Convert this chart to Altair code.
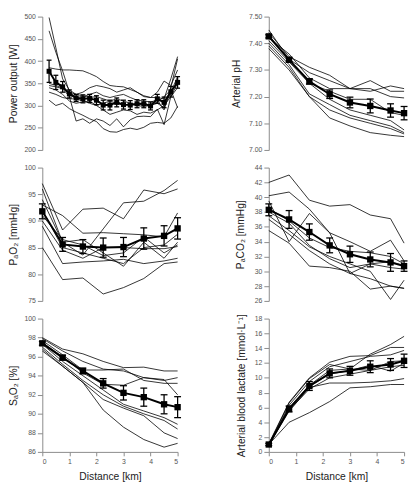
import altair as alt
import pandas as pd

# ---------------- data ----------------
D8 = [0, 0.75, 1.5, 2.25, 3, 3.75, 4.5, 5]
D20 = [0.25, 0.5, 0.75, 1.0, 1.25, 1.5, 1.75, 2.0, 2.25, 2.5,
       2.75, 3.0, 3.25, 3.5, 3.75, 4.0, 4.25, 4.5, 4.75, 5.0]

power_subjects = [
    [498, 430, 360, 335, 325, 322, 318, 320, 315, 310, 305, 300, 305, 300, 298, 300, 305, 295, 330, 365],
    [468, 420, 378, 330, 318, 320, 325, 330, 322, 318, 322, 325, 318, 312, 310, 308, 312, 290, 340, 405],
    [385, 382, 380, 380, 379, 378, 372, 365, 354, 345, 343, 342, 336, 330, 322, 318, 318, 315, 360, 410],
    [345, 342, 338, 320, 265, 270, 260, 270, 265, 255, 270, 252, 268, 275, 276, 275, 292, 257, 320, 350],
    [312, 300, 305, 293, 285, 278, 270, 264, 248, 241, 240, 246, 249, 246, 251, 260, 262, 260, 272, 298],
    [340, 335, 325, 310, 305, 308, 310, 300, 290, 280, 285, 290, 288, 280, 285, 283, 290, 300, 320, 340],
    [350, 345, 340, 330, 325, 330, 340, 345, 342, 338, 330, 335, 340, 330, 320, 318, 330, 355, 345, 380],
    [330, 325, 318, 315, 315, 310, 305, 300, 305, 310, 315, 310, 305, 300, 305, 300, 308, 320, 335, 295],
]
power_mean = [377, 352, 342, 326, 317, 315, 316, 312, 301, 301, 307, 302, 301, 304, 304, 299, 315, 307, 331, 352]
power_err = [25, 16, 12, 9, 8, 9, 9, 10, 11, 11, 10, 10, 10, 9, 9, 9, 10, 12, 12, 13]

ph_subjects = [
    [7.44, 7.35, 7.31, 7.28, 7.23, 7.22, 7.24, 7.23],
    [7.43, 7.34, 7.29, 7.26, 7.23, 7.26, 7.22, 7.22],
    [7.42, 7.36, 7.27, 7.23, 7.23, 7.23, 7.20, 7.195],
    [7.45, 7.34, 7.25, 7.22, 7.19, 7.19, 7.14, 7.13],
    [7.41, 7.33, 7.25, 7.19, 7.15, 7.13, 7.11, 7.075],
    [7.40, 7.32, 7.21, 7.17, 7.13, 7.11, 7.09, 7.065],
    [7.39, 7.31, 7.20, 7.15, 7.12, 7.10, 7.08, 7.06],
    [7.38, 7.30, 7.20, 7.12, 7.09, 7.065, 7.055, 7.05],
]
ph_mean = [7.426, 7.338, 7.257, 7.209, 7.178, 7.165, 7.148, 7.138]
ph_err = [0.006, 0.009, 0.010, 0.016, 0.020, 0.026, 0.025, 0.025]

pao2_subjects = [
    [97.0, 88.3, 92.2, 92.4, 90.4, 95.8, 95.1, 96.0],
    [96.0, 86.0, 83.6, 88.5, 93.4, 93.7, 95.7, 97.6],
    [93.0, 91.0, 87.7, 87.8, 87.6, 87.4, 87.0, 91.5],
    [94.0, 86.0, 86.5, 84.0, 81.5, 86.0, 83.0, 86.0],
    [92.0, 85.0, 84.0, 83.0, 82.0, 85.0, 85.5, 87.5],
    [90.0, 84.5, 83.0, 85.0, 85.0, 84.8, 84.8, 85.2],
    [89.0, 82.0, 82.3, 82.5, 82.8, 82.0, 82.5, 83.0],
    [85.0, 79.0, 79.3, 76.3, 77.5, 79.2, 82.0, 82.3],
    [91.0, 86.5, 85.5, 83.5, 84.0, 87.0, 84.0, 85.5],
]
pao2_mean = [91.8, 85.6, 85.2, 85.0, 85.1, 86.7, 87.2, 88.6]
pao2_err = [1.4, 1.3, 1.3, 1.8, 1.8, 2.0, 1.9, 2.0]

paco2_subjects = [
    [42.0, 43.0, 39.6, 38.8, 39.0, 37.6, 37.1, 33.8],
    [40.2, 40.7, 38.4, 35.2, 34.0, 32.7, 34.2, 31.4],
    [39.5, 34.0, 37.8, 35.2, 29.7, 31.0, 31.3, 30.8],
    [38.0, 36.5, 33.5, 31.7, 30.5, 31.0, 30.5, 30.3],
    [37.5, 35.5, 33.3, 32.0, 31.0, 30.0, 26.2, 28.8],
    [37.0, 35.0, 32.8, 31.0, 29.7, 29.0, 28.0, 27.7],
    [35.5, 33.8, 30.7, 30.5, 30.0, 27.6, 28.0, 27.7],
    [38.5, 36.8, 34.5, 33.2, 32.7, 32.5, 32.0, 31.0],
]
paco2_mean = [38.3, 37.0, 35.3, 33.5, 32.3, 31.6, 31.2, 30.7]
paco2_err = [0.8, 1.2, 1.1, 1.0, 1.1, 1.0, 1.2, 0.7]

sao2_subjects = [
    [98.0, 96.8, 96.3, 95.5, 94.85, 94.9, 94.5, 94.5],
    [97.9, 96.6, 95.5, 94.7, 94.5, 93.8, 93.5, 93.8],
    [97.7, 96.2, 94.6, 94.6, 94.7, 93.5, 93.2, 93.2],
    [97.5, 96.0, 94.3, 93.1, 93.0, 93.8, 93.6, 92.0],
    [97.3, 95.5, 94.0, 92.5, 91.0, 90.3, 89.6, 88.9],
    [97.0, 95.2, 93.5, 92.0, 90.8, 90.0, 89.3, 88.4],
    [96.8, 95.0, 93.3, 91.5, 90.6, 89.8, 88.0, 87.4],
    [96.6, 95.0, 93.3, 90.4, 88.6, 87.3, 86.5, 86.9],
]
sao2_mean = [97.4, 95.9, 94.5, 93.2, 92.2, 91.75, 91.0, 90.7]
sao2_err = [0.2, 0.25, 0.3, 0.5, 0.75, 0.95, 1.0, 1.1]

lac_subjects = [
    [1.0, 6.6, 9.9, 11.8, 11.2, 13.2, 14.5, 15.6],
    [1.1, 6.7, 10.0, 12.1, 12.9, 13.0, 14.1, 14.1],
    [0.9, 6.3, 9.5, 11.5, 12.2, 12.9, 13.1, 13.7],
    [1.0, 6.0, 9.0, 11.0, 11.2, 11.0, 12.2, 12.3],
    [0.8, 5.8, 8.8, 10.5, 11.0, 11.7, 10.9, 12.0],
    [1.1, 5.6, 8.5, 10.0, 10.5, 11.0, 11.5, 11.7],
    [0.9, 5.5, 8.7, 9.3, 9.3, 9.4, 9.6, 9.9],
    [1.0, 4.0, 5.3, 6.8, 8.65, 8.8, 9.1, 9.1],
]
lac_mean = [1.0, 5.8, 8.9, 10.6, 10.95, 11.5, 11.8, 12.3]
lac_err = [0.15, 0.4, 0.6, 0.6, 0.6, 0.8, 0.8, 0.9]

FONT = "Liberation Sans"
W, H = 138, 136


def panel(dist, subjects, mean, err, dom, ticks, fmt, title, tx, bottom, sq, cap):
    rows = []
    for sid, vals in enumerate(subjects):
        for d, v in zip(dist, vals):
            rows.append({"d": d, "v": v, "s": sid})
    ind = pd.DataFrame(rows)
    m = pd.DataFrame({
        "d": dist,
        "m": mean,
        "lo": [a - b for a, b in zip(mean, err)],
        "hi": [a + b for a, b in zip(mean, err)],
    })
    xs = alt.Scale(domain=[0, 5], nice=False, zero=False)
    if bottom:
        xax = alt.Axis(values=[0, 1, 2, 3, 4, 5], title="Distance [km]", grid=False,
                       tickSize=4, labelPadding=2, titlePadding=7, format="d")
    else:
        xax = None
    ys = alt.Scale(domain=dom, nice=False, zero=False)
    yax = alt.Axis(values=ticks, format=fmt, title=title, titleX=tx,
                   titleBaseline="middle", grid=False, tickSize=5, labelPadding=2)

    def X(f):
        return alt.X(f, type="quantitative", scale=xs, axis=xax)

    def Y(f):
        return alt.Y(f, type="quantitative", scale=ys, axis=yax)

    lines = alt.Chart(ind).mark_line(color="black", strokeWidth=0.8).encode(
        x=X("d"), y=Y("v"), detail="s:N")
    mline = alt.Chart(m).mark_line(color="black", strokeWidth=2).encode(x=X("d"), y=Y("m"))
    rule = alt.Chart(m).mark_rule(color="black", strokeWidth=1.3).encode(
        x=X("d"), y=Y("lo"), y2="hi")
    cap_lo = alt.Chart(m).mark_tick(orient="horizontal", size=cap, thickness=1.3,
                                    color="black", opacity=1).encode(x=X("d"), y=Y("lo"))
    cap_hi = alt.Chart(m).mark_tick(orient="horizontal", size=cap, thickness=1.3,
                                    color="black", opacity=1).encode(x=X("d"), y=Y("hi"))
    sqs = alt.Chart(m).mark_square(size=sq, color="black", opacity=1, filled=True).encode(
        x=X("d"), y=Y("m"))
    return alt.layer(lines, mline, rule, cap_lo, cap_hi, sqs).properties(width=W, height=H)


p1 = panel(D20, power_subjects, power_mean, power_err, [200, 500],
           [200, 250, 300, 350, 400, 450, 500], "d", "Power output [W]", -29, False, 26, 5)
p2 = panel(D8, ph_subjects, ph_mean, ph_err, [7.0, 7.5],
           [7.0, 7.1, 7.2, 7.3, 7.4, 7.5], ".2f", "Arterial pH", -33, False, 42, 7)
p3 = panel(D8, pao2_subjects, pao2_mean, pao2_err, [75, 100],
           [75, 80, 85, 90, 95, 100], "d", "P\u2090O\u2082 [mmHg]", -29, False, 42, 7)
p4 = panel(D8, paco2_subjects, paco2_mean, paco2_err, [26, 44],
           [26, 28, 30, 32, 34, 36, 38, 40, 42, 44], "d", "P\u2090CO\u2082 [mmHg]", -29, False, 42, 7)
p5 = panel(D8, sao2_subjects, sao2_mean, sao2_err, [86, 100],
           [86, 88, 90, 92, 94, 96, 98, 100], "d", "S\u2090O\u2082 [%]", -29, True, 42, 7)
p6 = panel(D8, lac_subjects, lac_mean, lac_err, [0, 18],
           [0, 2, 4, 6, 8, 10, 12, 14, 16, 18], "d",
           "Arterial blood lactate [mmol\u00b7L\u207b\u00b9]", -28, True, 42, 7)

chart = alt.concat(p1, p2, p3, p4, p5, p6, columns=2,
                   spacing={"row": 18, "column": 93}, bounds="flush").properties(padding=0)

chart = chart.configure_view(stroke=None).configure_axis(
    labelFont=FONT, titleFont=FONT, labelFontSize=7, titleFontSize=10.5,
    labelColor="#555555", domainColor="#8a8a8a", tickColor="#8a8a8a",
    titleFontWeight="normal", titleColor="#222222", domainWidth=1, tickWidth=1,
)

chart.save("out.html", embed_options={"renderer": "svg", "actions": False})
